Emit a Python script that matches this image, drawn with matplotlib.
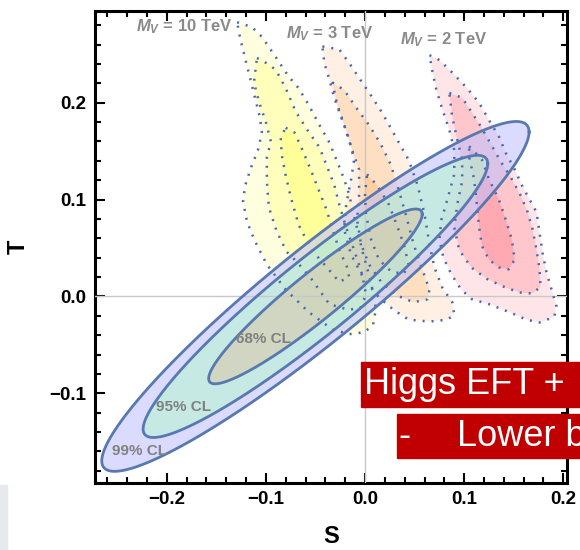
import numpy as np
import matplotlib
matplotlib.use('Agg')
import matplotlib.pyplot as plt
from matplotlib.patches import Rectangle
from matplotlib.ticker import MultipleLocator

plt.rcParams['font.family'] = ['Liberation Sans', 'DejaVu Sans']
plt.rcParams['mathtext.fontset'] = 'custom'
plt.rcParams['mathtext.it'] = 'Liberation Sans:bold:italic'
plt.rcParams['mathtext.rm'] = 'Liberation Sans:bold'

# S,T fit (centre, errors, correlation) and the delta chi^2 of each CL contour
fit_center = (-0.05, 0.0)
fit_sigma = (0.071, 0.0595)
fit_rho = 0.94
cl_names = ['99% CL', '95% CL', '68% CL']
cl_dchi2 = [9.21, 5.99, 2.30]

# scanned regions for each vector mass, three nested levels each (S, T)
mv_names = ['$M_V$ = 10 TeV', '$M_V$ = 3 TeV', '$M_V$ = 2 TeV']

mv10_outer = [(-0.129, 0.283), (-0.114, 0.278), (-0.104, 0.268), (-0.090, 0.247), (-0.077, 0.227),
              (-0.067, 0.215), (-0.057, 0.198), (-0.046, 0.177), (-0.036, 0.159), (-0.028, 0.139),
              (-0.021, 0.121), (-0.016, 0.105), (-0.010, 0.079), (-0.003, 0.048), (0.006, 0.015),
              (0.011, -0.013), (0.008, -0.030), (-0.001, -0.037), (-0.016, -0.039), (-0.033, -0.034),
              (-0.057, -0.016), (-0.080, 0.007), (-0.099, 0.033), (-0.111, 0.057), (-0.119, 0.077),
              (-0.123, 0.098), (-0.121, 0.114), (-0.115, 0.133), (-0.108, 0.151), (-0.104, 0.169),
              (-0.106, 0.185), (-0.111, 0.205), (-0.116, 0.226), (-0.121, 0.246), (-0.126, 0.267)]
mv10_mid = [(-0.109, 0.246), (-0.104, 0.244), (-0.090, 0.234), (-0.080, 0.215), (-0.070, 0.191),
            (-0.057, 0.170), (-0.046, 0.154), (-0.039, 0.136), (-0.031, 0.115), (-0.026, 0.095),
            (-0.019, 0.071), (-0.011, 0.048), (-0.003, 0.023), (0.001, 0.002), (-0.004, -0.011),
            (-0.016, -0.014), (-0.036, -0.008), (-0.054, 0.018), (-0.069, 0.036), (-0.079, 0.046),
            (-0.089, 0.067), (-0.097, 0.092), (-0.099, 0.119), (-0.099, 0.143), (-0.095, 0.160),
            (-0.100, 0.180), (-0.107, 0.201), (-0.112, 0.221)]
mv10_inner = [(-0.080, 0.174), (-0.071, 0.169), (-0.063, 0.151), (-0.054, 0.129), (-0.046, 0.108),
              (-0.039, 0.090), (-0.032, 0.067), (-0.026, 0.048), (-0.018, 0.030), (-0.016, 0.020),
              (-0.026, 0.015), (-0.041, 0.033), (-0.054, 0.048), (-0.067, 0.074), (-0.075, 0.103),
              (-0.080, 0.125), (-0.084, 0.146), (-0.085, 0.164)]

mv3_outer = [(-0.043, 0.258), (-0.026, 0.255), (-0.016, 0.241), (-0.003, 0.221), (0.007, 0.206),
             (0.017, 0.190), (0.027, 0.172), (0.034, 0.159), (0.044, 0.141), (0.053, 0.115),
             (0.060, 0.085), (0.065, 0.054), (0.070, 0.030), (0.078, 0.009), (0.088, -0.006),
             (0.090, -0.019), (0.083, -0.024), (0.065, -0.026), (0.044, -0.024), (0.029, -0.014),
             (0.014, -0.001), (-0.001, 0.018), (-0.014, 0.043), (-0.021, 0.069), (-0.019, 0.095),
             (-0.014, 0.121), (-0.011, 0.141), (-0.016, 0.162), (-0.024, 0.185), (-0.031, 0.205),
             (-0.036, 0.224), (-0.041, 0.241)]
mv3_mid = [(-0.033, 0.221), (-0.021, 0.213), (-0.009, 0.195), (0.004, 0.177), (0.016, 0.157),
           (0.026, 0.136), (0.034, 0.110), (0.041, 0.085), (0.049, 0.054), (0.057, 0.030),
           (0.065, 0.007), (0.063, -0.003), (0.049, -0.006), (0.032, 0.001), (0.017, 0.014),
           (0.004, 0.033), (-0.004, 0.054), (-0.008, 0.079), (-0.006, 0.105), (-0.006, 0.131),
           (-0.014, 0.154), (-0.021, 0.177), (-0.028, 0.198)]
mv3_inner = [(0.002, 0.126), (0.012, 0.115), (0.024, 0.095), (0.032, 0.074), (0.039, 0.054),
             (0.044, 0.033), (0.039, 0.023), (0.026, 0.026), (0.014, 0.038), (0.006, 0.059),
             (0.001, 0.085), (0.000, 0.105)]

mv2_outer = [(0.065, 0.249), (0.075, 0.244), (0.088, 0.231), (0.102, 0.216), (0.115, 0.200),
             (0.125, 0.182), (0.135, 0.165), (0.142, 0.148), (0.151, 0.131), (0.159, 0.113),
             (0.166, 0.100), (0.173, 0.087), (0.176, 0.066), (0.179, 0.045), (0.183, 0.025),
             (0.189, 0.004), (0.193, -0.010), (0.191, -0.021), (0.176, -0.027), (0.163, -0.024),
             (0.145, -0.016), (0.125, -0.008), (0.108, -0.003), (0.097, 0.007), (0.087, 0.023),
             (0.079, 0.040), (0.075, 0.059), (0.077, 0.079), (0.083, 0.100), (0.090, 0.126),
             (0.090, 0.151), (0.085, 0.172), (0.078, 0.193), (0.072, 0.213), (0.068, 0.232)]
mv2_mid = [(0.085, 0.210), (0.098, 0.205), (0.107, 0.191), (0.117, 0.175), (0.127, 0.157),
           (0.137, 0.139), (0.147, 0.123), (0.157, 0.104), (0.164, 0.087), (0.169, 0.069),
           (0.173, 0.048), (0.176, 0.028), (0.177, 0.010), (0.169, 0.003), (0.156, 0.004),
           (0.140, 0.010), (0.123, 0.018), (0.107, 0.030), (0.095, 0.048), (0.090, 0.071),
           (0.093, 0.095), (0.098, 0.119), (0.098, 0.141), (0.093, 0.162), (0.088, 0.185)]
mv2_inner = [(0.105, 0.155), (0.118, 0.141), (0.125, 0.121), (0.135, 0.100), (0.142, 0.079),
             (0.148, 0.059), (0.151, 0.038), (0.145, 0.028), (0.135, 0.030), (0.125, 0.038),
             (0.118, 0.052), (0.115, 0.072), (0.113, 0.093), (0.110, 0.121), (0.105, 0.144)]

mv_regions = [[mv10_outer, mv10_mid, mv10_inner],
              [mv3_outer, mv3_mid, mv3_inner],
              [mv2_outer, mv2_mid, mv2_inner]]

# styles and label positions
mv_colors = [(1.0, 1.0, 0.4), (1.0, 0.72, 0.45), (1.0, 0.5, 0.55)]
level_alpha = [0.2, 0.3, 0.4]
mv_label_xy = [(-0.182, 0.278), (-0.036, 0.271), (0.079, 0.265)]
cl_fill = [(0.75, 0.75, 1.0), (0.71, 0.97, 0.80), (0.85, 0.775, 0.654)]
cl_label_xy = [(-0.227, -0.160), (-0.183, -0.114), (-0.102, -0.044)]
dot_color = '#4669ad'
edge_color = '#5878b0'

fig = plt.figure(figsize=(5.8, 5.5), dpi=100)
ax = fig.add_axes([95 / 580, 1 - 483 / 550, 472 / 580, 472 / 550])

# vector-mass regions, nested levels stacked with alpha, dotted outlines
for levels, col in zip(mv_regions, mv_colors):
    for poly, a in zip(levels, level_alpha):
        s = [p[0] for p in poly]
        t = [p[1] for p in poly]
        ax.fill(s, t, color=col, alpha=a, lw=0, zorder=1)
        ax.plot(s + s[:1], t + t[:1], color=dot_color, lw=1.8,
                linestyle=(0, (0.8, 2.8)), dash_capstyle='butt', zorder=4)

# ellipses from the fit
ss, st = fit_sigma
cov = np.array([[ss**2, fit_rho * ss * st], [fit_rho * ss * st, st**2]])
L = np.linalg.cholesky(cov)
ang = np.linspace(0, 2 * np.pi, 400)
circle = np.vstack([np.cos(ang), np.sin(ang)])
for k, col in zip(cl_dchi2, cl_fill):
    pts = np.sqrt(k) * (L @ circle)
    es = pts[0] + fit_center[0]
    et = pts[1] + fit_center[1]
    ax.fill(es, et, color=col, alpha=0.55, lw=0, zorder=2)
    ax.plot(es, et, color=edge_color, lw=2.0, zorder=5)

for name, (x, y) in zip(cl_names, cl_label_xy):
    ax.text(x, y, name, color='#808080', fontsize=11, fontweight='bold',
            ha='center', va='center', zorder=6)

for name, (x, y) in zip(mv_names, mv_label_xy):
    ax.text(x, y, name, color='#8a8a8a', fontsize=12, fontweight='bold',
            ha='center', va='center', zorder=6)

ax.axhline(0, color='#c8c8c8', lw=1.0, zorder=3)
ax.axvline(0, color='#c8c8c8', lw=1.0, zorder=3)

ax.set_xlim(-0.2723, 0.2037)
ax.set_ylim(-0.1926, 0.2946)
ax.xaxis.set_major_locator(MultipleLocator(0.1))
ax.xaxis.set_minor_locator(MultipleLocator(0.02))
ax.yaxis.set_major_locator(MultipleLocator(0.1))
ax.yaxis.set_minor_locator(MultipleLocator(0.02))
ax.xaxis.set_major_formatter(lambda v, p: f'{v:.1f}'.replace('-', '\u2212'))
ax.yaxis.set_major_formatter(lambda v, p: f'{v:.1f}'.replace('-', '\u2212'))
ax.tick_params(which='both', direction='in', top=True, right=True, width=1.5, colors='black')
ax.tick_params(which='major', length=7, labelsize=13.5, pad=6)
ax.tick_params(which='minor', length=4)
for lab in ax.get_xticklabels() + ax.get_yticklabels():
    lab.set_fontweight('bold')
for sp in ax.spines.values():
    sp.set_linewidth(2.2)

ax.set_xlabel('S', fontsize=17, fontweight='bold', labelpad=12)
ax.set_ylabel('T', fontsize=17, fontweight='bold', labelpad=14)

# slide overlay boxes (they run off the right edge of the slide crop)
fig.patches.append(Rectangle((361 / 580, 1 - 407 / 550), 219 / 580, 45 / 550,
                             transform=fig.transFigure, color='#c00000', zorder=10))
fig.patches.append(Rectangle((397 / 580, 1 - 458 / 550), 183 / 580, 44 / 550,
                             transform=fig.transFigure, color='#c00000', zorder=10))
fig.text(364 / 580, 1 - 385 / 550, 'Higgs EFT +', color='white', fontsize=26,
         ha='left', va='center', zorder=11)
fig.text(398 / 580, 1 - 436 / 550, '-', color='white', fontsize=26,
         ha='left', va='center', zorder=11)
fig.text(457 / 580, 1 - 436 / 550, 'Lower b', color='white', fontsize=26,
         ha='left', va='center', zorder=11)
fig.patches.append(Rectangle((0, 0), 7 / 580, 65 / 550, transform=fig.transFigure,
                             color='#e6eaee', zorder=0))

fig.savefig('out.png', dpi=100)
